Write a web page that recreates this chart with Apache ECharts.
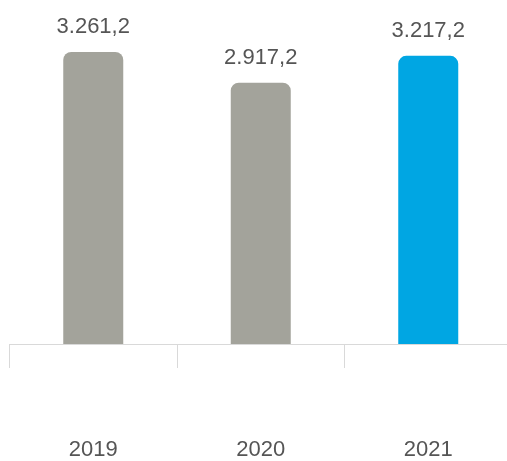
<!DOCTYPE html>
<html><head><meta charset="utf-8">
<script src="https://cdn.jsdelivr.net/npm/echarts@6/dist/echarts.min.js"></script>
<style>html,body{margin:0;padding:0;background:#fff;overflow:hidden}#c{width:512px;height:461px}</style>
</head><body><div id="c"></div>
<script>
const categories = ['2019', '2020', '2021'];
const values = [3261.2, 2917.2, 3217.2];
const barColors = ['#a3a39b', '#a3a39b', '#00a6e3'];

function fmt(v) {
  const parts = v.toFixed(1).split('.');
  return parts[0].replace(/\B(?=(\d{3})+(?!\d))/g, '.') + ',' + parts[1];
}

const chart = echarts.init(document.getElementById('c'));
chart.setOption({
  animation: false,
  grid: { left: 9.5, right: 0, top: 30.5, height: 315, containLabel: false },
  xAxis: {
    type: 'category',
    data: categories,
    axisLine: { lineStyle: { color: '#d9d9d9', width: 1 } },
    axisTick: { show: true, length: 24, lineStyle: { color: '#d9d9d9' } },
    axisLabel: { color: '#555', fontSize: 22, fontFamily: 'Liberation Sans, Arial, sans-serif', margin: 95 }
  },
  yAxis: {
    type: 'value', min: 0, max: 3500,
    show: false, splitLine: { show: false }
  },
  series: [{
    type: 'bar',
    barWidth: 60,
    data: values.map((v, i) => ({ value: v, itemStyle: { color: barColors[i] } })),
    itemStyle: { borderRadius: [8, 8, 0, 0] },
    label: {
      show: true, position: 'top', distance: 14,
      color: '#555', fontSize: 22, fontFamily: 'Liberation Sans, Arial, sans-serif',
      formatter: p => fmt(p.value)
    }
  }]
});
</script></body></html>
